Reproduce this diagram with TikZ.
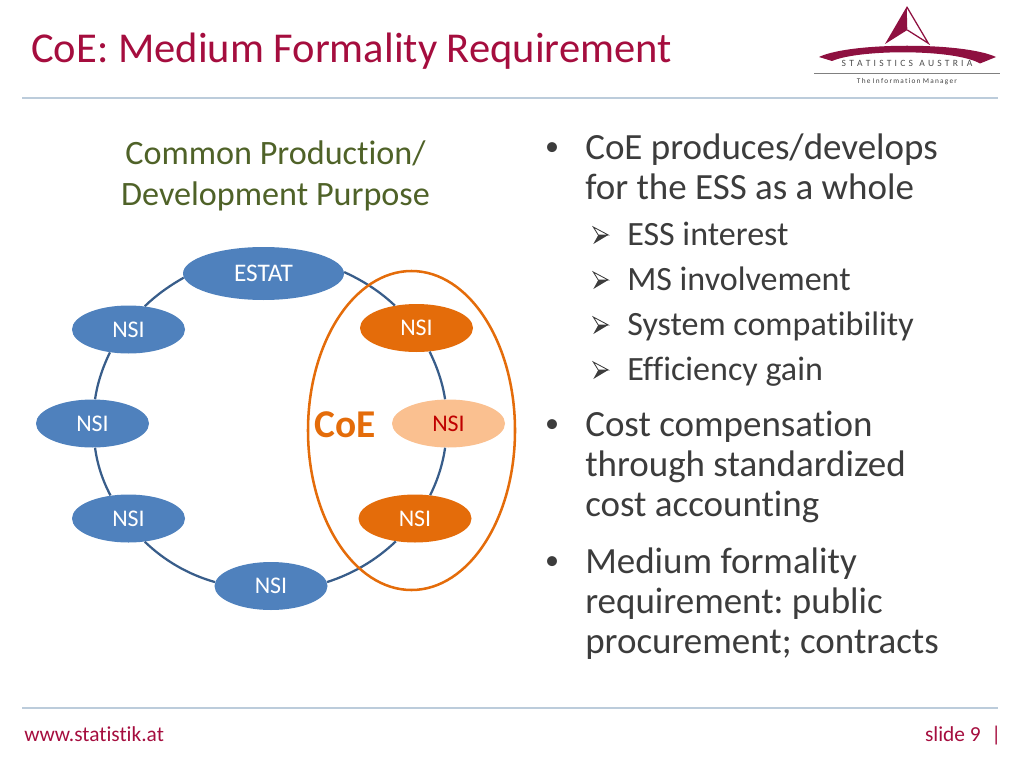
\documentclass[tikz,border=0pt]{standalone}
\usepackage{fontspec}
\usepackage{tikz}
\usetikzlibrary{shapes.geometric}
\setmainfont[Ligatures=NoCommon]{Carlito}
\definecolor{titlered}{HTML}{A50D3E}
\definecolor{logored}{HTML}{8E1040}
\definecolor{olivetext}{HTML}{4F6228}
\definecolor{bodytext}{HTML}{3C3C3C}
\definecolor{rulegrey}{HTML}{BCCCDB}
\definecolor{nodeblue}{HTML}{4F81BD}
\definecolor{ringblue}{HTML}{385D8A}
\definecolor{nodeorange}{HTML}{E46C0A}
\definecolor{nodepeach}{HTML}{FAC090}
\tikzset{
  blob/.style={ellipse,fill=nodeblue,text=white,minimum width=113*0.025cm,minimum height=48*0.025cm,inner sep=0pt,font=\fontsize{17}{17}\selectfont},
  blobo/.style={blob,fill=nodeorange},
  ring/.style={draw=ringblue,line width=1.6pt},
  bul/.style={anchor=base west,text=bodytext,inner sep=0pt,font=\fontsize{26.3}{26.3}\selectfont},
  sub/.style={anchor=base west,text=bodytext,inner sep=0pt,font=\fontsize{24.2}{24.2}\selectfont},
  dot/.style={anchor=base,text=bodytext,inner sep=0pt,font=\fontsize{20}{20}\selectfont},
  rulebar/.style={rulegrey,line width=1.3pt}
}
\newcommand{\subarrow}[1]{
\draw[bodytext,line width=0.6pt,line join=miter] (593.3,#1-18)--(608.3,#1-10)--(598.3,#1-10)--cycle;
\fill[bodytext] (593.3,#1-1)--(608.3,#1-10)--(598.3,#1-10)--cycle;
}
\begin{document}
\frenchspacing
\begin{tikzpicture}[x=0.025cm,y=-0.025cm]
\useasboundingbox (0,0) rectangle (1024,768);
%title
\node (title) [anchor=base west,inner sep=0pt,text=titlered,font=\fontsize{30.25}{30.25}\selectfont] at (31,63) {CoE: Medium Formality Requirement};
\draw[rulebar] (22,98)--(998,98);
\draw[rulebar] (22,708)--(998,708);
%logo
\fill[logored] (906.7,6.7)--(907.3,30)--(885,44)--cycle;
\draw[logored,line width=0.9pt,line join=miter] (906.7,6.7)--(928.3,43.3)--(907.3,30);
\fill[logored] (819,57) .. controls (850,42) and (964,42) .. (996,57)--(980,63.5)
  .. controls (955,49) and (860,49) .. (832,61)--cycle;
\node (logotext) [inner sep=0pt,text=black!70,font=\fontsize{6.8}{6.8}\selectfont] at (907,63.5) {S\,\,T\,\,A\,\,T\,\,I\,\,S\,\,T\,\,I\,\,C\,\,S\,\,\,\,A\,\,U\,\,S\,\,T\,\,R\,\,I\,\,A};
\draw[black!50,line width=0.4pt] (814,73)--(1000,73);
\node (logosub) [inner sep=0pt,text=black!75,font=\fontsize{5.2}{5.2}\selectfont] at (907,81.5) {T\,h\,e\,\,I\,n\,f\,o\,r\,m\,a\,t\,i\,o\,n\,\,M\,a\,n\,a\,g\,e\,r};
%heading left
\node (head) [align=center,text=olivetext,inner sep=0pt,font=\fontsize{24.3}{29}\selectfont] at (275.5,176) {Common Production/\\Development Purpose};
%nodes of the ring
\node (estat) [blob,minimum width=161*0.025cm,minimum height=53*0.025cm,font=\fontsize{18}{18}\selectfont] at (263.5,273.5) {ESTAT};
\node (nsia) [blob] at (128.5,329.5) {NSI};
\node (nsib) [blob] at (92.5,423.5) {NSI};
\node (nsic) [blob] at (128.5,518.5) {NSI};
\node (nsid) [blob] at (271,586) {NSI};
\node (nsie) [blobo] at (415,518.5) {NSI};
\node (nsif) [blob,fill=nodepeach,text=red!75!black] at (448.5,423.5) {NSI};
\node (nsig) [blobo] at (416.5,328) {NSI};
%ring
\draw[ring] (estat.183.6) .. controls (168.9,286.1) and (156.2,295.2) .. (nsia.55.4);
\draw[ring] (nsia.231.7) .. controls (102.1,368.5) and (97.2,384.3) .. (nsib.84.5);
\draw[ring] (nsib.-84.7) .. controls (97.2,463.7) and (102.1,479.5) .. (nsic.128.3);
\draw[ring] (nsic.-55.4) .. controls (164.9,561) and (188.4,574.5) .. (nsid.176.7);
\draw[ring] (nsid.4.1) .. controls (353.4,573.5) and (375.9,560.2) .. (nsie.230);
\draw[ring] (nsie.57.2) .. controls (437.9,479.5) and (442.8,463.7) .. (nsif.262.3);
\draw[ring] (nsif.98) .. controls (442.8,384.3) and (437.9,368.5) .. (nsig.-61.3);
\draw[ring] (nsig.134) .. controls (380.5,292) and (363.8,281) .. (estat.1);
%group
\node (group) [ellipse,draw=nodeorange,line width=1.8pt,minimum width=207*0.025cm,minimum height=319*0.025cm,inner sep=0pt] at (411.5,430.5) {};
\node (coe) [inner sep=0pt,text=nodeorange,font=\bfseries\fontsize{28}{28}\selectfont] at (345,424.5) {CoE};
%bullets
\node (ba) [dot] at (552,155) {•};
\node (ta) [bul] at (585,159) {CoE produces/develops};
\node (tb) [bul] at (585,199) {for the ESS as a whole};
\subarrow{245}
\node (ua) [sub] at (627,245) {ESS interest};
\subarrow{290}
\node (ub) [sub] at (627,290) {MS involvement};
\subarrow{335}
\node (uc) [sub] at (627,335) {System compatibility};
\subarrow{380}
\node (ud) [sub] at (627,380) {Efficiency gain};
\node (bb) [dot] at (552,432) {•};
\node (tc) [bul] at (585,436) {Cost compensation};
\node (td) [bul] at (585,476) {through standardized};
\node (te) [bul] at (585,516) {cost accounting};
\node (bc) [dot] at (552,569) {•};
\node (tf) [bul] at (585,573) {Medium formality};
\node (tg) [bul] at (585,613) {requirement: public};
\node (th) [bul] at (585,653) {procurement; contracts};
%footer
\node (www) [anchor=base west,inner sep=0pt,text=titlered,font=\fontsize{15.2}{15.2}\selectfont] at (24,741) {www.statistik.at};
\node (slide) [anchor=base east,inner sep=0pt,text=titlered,font=\fontsize{15.2}{15.2}\selectfont] at (1001.5,741) {slide 9\,\,\,|};
\end{tikzpicture}
\end{document}
